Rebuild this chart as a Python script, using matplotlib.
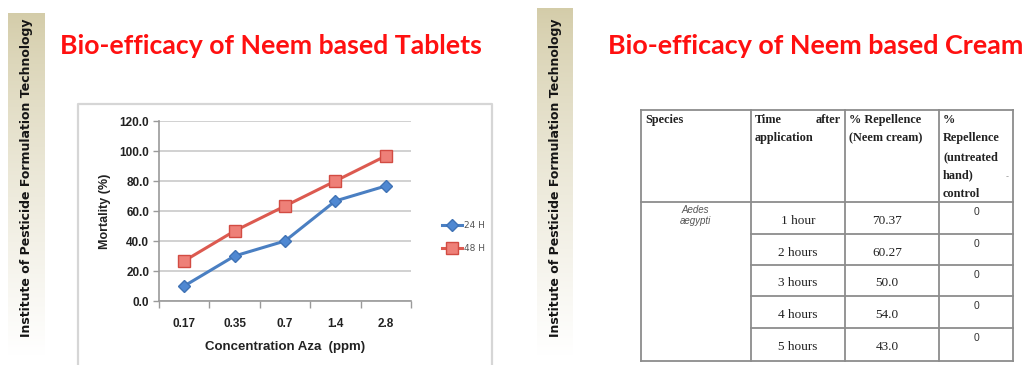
import numpy as np
import matplotlib
matplotlib.use("Agg")
import matplotlib.pyplot as plt

# ---- data -------------------------------------------------------------
concentrations = ["0.17", "0.35", "0.7", "1.4", "2.8"]
mortality_24h = [10.0, 30.0, 40.0, 66.7, 76.7]
mortality_48h = [26.7, 46.7, 63.3, 80.0, 96.7]
series_labels = ["24 H", "48 H"]
y_ticks = [0, 20, 40, 60, 80, 100, 120]

species_name = ["Aedes", "aegypti"]
time_after = ["1 hour", "2 hours", "3 hours", "4 hours", "5 hours"]
repellence_cream = ["70.37", "60.27", "50.0", "54.0", "43.0"]
repellence_control = ["0", "0", "0", "0", "0"]

title_left = "Bio-efficacy of Neem based Tablets"
title_right = "Bio-efficacy of Neem based Cream"
sidebar_text = "Institute of Pesticide Formulation Technology"

W, H = 1030, 365
fig = plt.figure(figsize=(W / 100, H / 100), dpi=100)
fig.patch.set_facecolor("white")

# full-figure pixel canvas for decorations and the table
bg = fig.add_axes([0, 0, 1, 1], zorder=0)
bg.set_xlim(0, W)
bg.set_ylim(H, 0)
bg.axis("off")

# gradient side bars
grad = np.linspace(0, 1, 256) ** 0.8
top = np.array([0.83, 0.80, 0.66])
cols = top[None, :] * (1 - grad[:, None]) + np.ones(3)[None, :] * grad[:, None]
img = np.repeat(cols[:, None, :], 2, axis=1)
for x0, x1, y0, y1, tx in [(8, 45, 13, 356, 27), (537, 573, 8, 356, 556)]:
    bg.imshow(img, extent=(x0, x1, y1, y0), aspect="auto", zorder=1)
    bg.text(tx, 178, sidebar_text, rotation=90, ha="center",
            va="center", fontsize=9.0, fontweight="bold",
            family="DejaVu Sans", color="#151515", zorder=2)

# titles
bg.text(60, 46, title_left, fontsize=19.2, fontweight="bold", family="Lato",
        color="#ff1010", ha="left", va="center")
bg.text(608, 46, title_right, fontsize=19.4, fontweight="bold", family="Lato",
        color="#ff1010", ha="left", va="center")

# chart frame
bg.plot([78, 78, 492, 492], [H + 2, 104, 104, H + 2], color="#d6d6d6", lw=1.6)

# ---- line chart -------------------------------------------------------
ax = fig.add_axes([159 / W, 1 - 301 / H, 252 / W, 180 / H], zorder=2)
ax.set_facecolor("white")
x = np.arange(len(concentrations))
ax.plot(x, mortality_24h, color="#4a7fc2", lw=2.2, marker="D", ms=6,
        mfc="#4f88d2", mec="#3f72b5", label=series_labels[0])
ax.plot(x, mortality_48h, color="#dc5a50", lw=2.2, marker="s", ms=8.5,
        mfc="#ee8078", mec="#d24c43", label=series_labels[1])
ax.set_xlim(-0.5, len(concentrations) - 0.5)
ax.set_ylim(0, 120)
ax.set_yticks(y_ticks)
ax.set_yticklabels([f"{v:.1f}" for v in y_ticks])
ax.set_xticks(np.arange(-0.5, len(concentrations)))
ax.set_xticklabels([])
ax.set_xticks(x, minor=True)
ax.set_xticklabels(concentrations, minor=True)
ax.tick_params(axis="x", which="major", length=5, color="#9a9a9a", width=1)
ax.tick_params(axis="x", which="minor", length=0, pad=12)
ax.tick_params(axis="y", length=4, color="#9a9a9a", width=1, pad=3)
for lbl in ax.get_yticklabels() + ax.get_xticklabels(minor=True):
    lbl.set_fontweight("bold")
    lbl.set_fontsize(8.5)
    lbl.set_family("Liberation Sans")
    lbl.set_color("#222222")
ax.grid(axis="y", color="#c9c9c9", lw=1.2)
ax.set_axisbelow(True)
for s in ["top", "right"]:
    ax.spines[s].set_visible(False)
for s in ["left", "bottom"]:
    ax.spines[s].set_color("#9a9a9a")
    ax.spines[s].set_linewidth(1.2)
ax.set_ylabel("Mortality (%)", fontsize=9, fontweight="bold",
              family="Liberation Sans", color="#222222", labelpad=6)
ax.set_xlabel("Concentration Aza  (ppm)", fontsize=9.5, fontweight="bold",
              family="Liberation Sans", color="#222222", labelpad=8)
leg = ax.legend(loc="center left", bbox_to_anchor=(437 / W, 1 - 237 / H),
                bbox_transform=fig.transFigure, frameon=False, fontsize=6.5,
                handlelength=2.3, labelspacing=1.5, handletextpad=0.2,
                borderpad=0)
for t in leg.get_texts():
    t.set_color("#555555")

# ---- table ------------------------------------------------------------
col_x = [641, 751, 845, 939, 1013]
row_y = [110, 202, 234, 265, 296, 328, 361]
lc = "#8c8c8c"
for cx in col_x:
    bg.plot([cx, cx], [row_y[0], row_y[-1]], color=lc, lw=1.3)
bg.plot([col_x[0], col_x[-1]], [row_y[0], row_y[0]], color=lc, lw=1.3)
bg.plot([col_x[0], col_x[-1]], [row_y[1], row_y[1]], color=lc, lw=1.3)
bg.plot([col_x[0], col_x[-1]], [row_y[-1], row_y[-1]], color=lc, lw=1.3)
for ry in row_y[2:-1]:
    bg.plot([col_x[1], col_x[-1]], [ry, ry], color=lc, lw=1.3)

serif = "Liberation Serif"
hfs = 8.8
line_y = [120, 138.5, 157, 175.5, 194]
bg.text(645, line_y[0], "Species", family=serif, fontweight="bold",
        fontsize=hfs, va="center", ha="left", color="#222")
bg.text(755, line_y[0], "Time", family=serif, fontweight="bold",
        fontsize=hfs, va="center", ha="left", color="#222")
bg.text(841, line_y[0], "after", family=serif, fontweight="bold",
        fontsize=hfs, va="center", ha="right", color="#222")
bg.text(755, line_y[1], "application", family=serif, fontweight="bold",
        fontsize=hfs, va="center", ha="left", color="#222")
for i, s in enumerate(["% Repellence", "(Neem cream)"]):
    bg.text(849, line_y[i], s, family=serif, fontweight="bold",
            fontsize=hfs, va="center", ha="left", color="#222")
for i, s in enumerate(["%", "Repellence", "(untreated", "hand)", "control"]):
    bg.text(943, line_y[i], s, family=serif, fontweight="bold",
            fontsize=hfs, va="center", ha="left", color="#222")
bg.text(1007, 177, "-", fontsize=6, color="#999", ha="center", va="center")

bg.text(695, 210, species_name[0], family="Liberation Sans", style="italic",
        fontsize=7, color="#555", ha="center", va="center")
bg.text(695, 221, species_name[1], family="Liberation Sans", style="italic",
        fontsize=7, color="#555", ha="center", va="center")

for i in range(len(time_after)):
    y0, y1 = row_y[i + 1], row_y[i + 2]
    yc = (y0 + y1) / 2 + 3
    bg.text(798, yc, time_after[i], family=serif, fontsize=9.5, color="#222",
            ha="center", va="center")
    bg.text(887, yc, repellence_cream[i], family=serif, fontsize=9.5,
            color="#222", ha="center", va="center")
    bg.text(977, y0 + 10, repellence_control[i], family="Liberation Sans",
            fontsize=7.5, color="#333", ha="center", va="center")

fig.savefig("out.png", dpi=100, facecolor="white")
